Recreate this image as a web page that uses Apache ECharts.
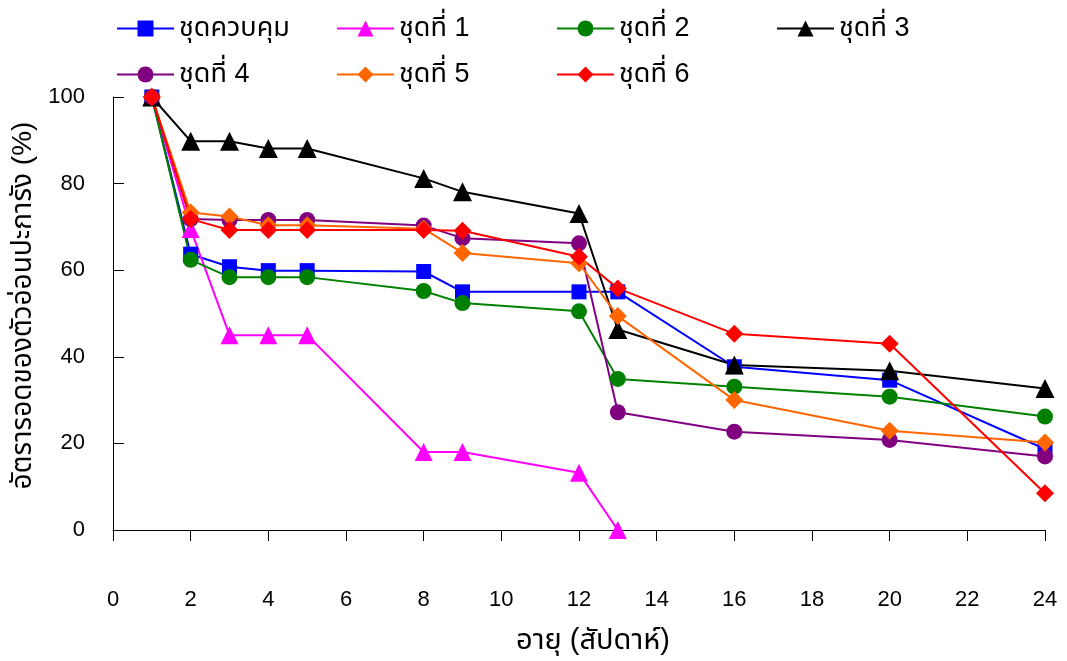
<!DOCTYPE html>
<html>
<head>
<meta charset="utf-8">
<script src="https://cdn.jsdelivr.net/npm/echarts@6/dist/echarts.min.js"></script>
<style>
  html, body { margin: 0; padding: 0; background: #ffffff; }
  #chart { width: 1067px; height: 661px; }
</style>
</head>
<body>
<div id="chart"></div>
<script>
// Age of larvae (weeks) at each census
const weeks = [1, 2, 3, 4, 5, 8, 9, 12, 13, 16, 20, 24];

// Survival (%) per treatment set
const control = [100, 63.7, 60.8, 59.9, 59.9, 59.7, 55.0, 55.0, 55.0, 37.7, 34.6, 18.7];
const set1 = [100, 69.5, 45.0, 45.0, 45.0, 18.0, 18.0, 13.2, 0];
const set2 = [100, 62.4, 58.4, 58.4, 58.4, 55.2, 52.4, 50.5, 34.9, 33.1, 30.8, 26.2];
const set3 = [100, 89.8, 89.8, 88.1, 88.1, 81.2, 78.1, 73.1, 46.3, 38.1, 36.8, 32.7];
const set4 = [100, 71.8, 71.6, 71.6, 71.6, 70.3, 67.4, 66.2, 27.2, 22.7, 20.8, 17.0];
const set5 = [100, 73.3, 72.4, 70.4, 70.4, 69.6, 64.0, 61.6, 49.4, 30.0, 22.9, 20.2];
const set6 = [100, 71.8, 69.3, 69.3, 69.3, 69.3, 69.1, 63.1, 55.8, 45.3, 43.0, 8.5];

const seriesNames = ['ชุดควบคุม', 'ชุดที่ 1', 'ชุดที่ 2', 'ชุดที่ 3', 'ชุดที่ 4', 'ชุดที่ 5', 'ชุดที่ 6'];
const seriesValues = [control, set1, set2, set3, set4, set5, set6];

// x-axis ticks 0..24 step 2, y-axis ticks 0..100 step 20
const xTicks = { min: 0, max: 24, step: 2 };
const yTicks = { min: 0, max: 100, step: 20 };

const colors = ['#0000ff', '#ff00ff', '#008000', '#000000', '#800080', '#ff6600', '#ff0000'];
const symbols = ['rect', 'triangle', 'circle', 'triangle', 'circle', 'diamond', 'diamond'];
const symbolSizes = [15, 18, 16, 19, 16, 18, 18];

const FONT = '"Liberation Sans", Arial, "Noto Sans Thai", "Noto Sans", sans-serif';

const series = seriesValues.map((vals, i) => ({
  name: seriesNames[i],
  type: 'line',
  data: vals.map((v, j) => [weeks[j], v]),
  symbol: symbols[i],
  symbolSize: symbolSizes[i],
  lineStyle: { color: colors[i], width: 2 },
  itemStyle: { color: colors[i] },
  emphasis: { disabled: true },
  animation: false
}));

// one legend block per series so the columns sit on a fixed grid
const legendPos = [
  [116, 15], [336, 15], [556, 15], [776, 15],
  [116, 61], [336, 61], [556, 61]
];
const legends = seriesNames.map((n, i) => ({
  data: [n],
  left: legendPos[i][0],
  top: legendPos[i][1],
  itemWidth: 57,
  itemHeight: 20,
  padding: 0,
  selectedMode: false,
  textStyle: { fontFamily: FONT, fontSize: 27, color: '#000' }
}));

const chart = echarts.init(document.getElementById('chart'), null, { renderer: 'canvas' });
chart.setOption({
  backgroundColor: '#ffffff',
  animation: false,
  color: colors,
  legend: legends,
  grid: { left: 113, right: 22, top: 97, bottom: 131, containLabel: false },
  xAxis: {
    type: 'value',
    min: xTicks.min,
    max: xTicks.max,
    interval: xTicks.step,
    name: 'อายุ (สัปดาห์)',
    nameLocation: 'middle',
    nameGap: 96,
    nameTextStyle: { fontFamily: FONT, fontSize: 29, color: '#000', padding: [0, 0, 0, 28] },
    axisLine: { lineStyle: { color: '#000', width: 1 } },
    axisTick: { show: true, inside: false, length: 11, lineStyle: { color: '#000' } },
    axisLabel: { fontFamily: FONT, fontSize: 22, color: '#000', margin: 59 },
    splitLine: { show: false }
  },
  yAxis: {
    type: 'value',
    min: yTicks.min,
    max: yTicks.max,
    interval: yTicks.step,
    name: 'อัตรารอดของตัวอ่อนปะการัง (%)',
    nameLocation: 'middle',
    nameGap: 65,
    nameRotate: 90,
    nameTextStyle: { fontFamily: FONT, fontSize: 28, color: '#000', padding: [0, 0, 0, 16] },
    axisLine: { show: true, lineStyle: { color: '#000', width: 1 } },
    axisTick: { show: true, inside: true, length: 11, lineStyle: { color: '#000' } },
    axisLabel: { fontFamily: FONT, fontSize: 22, color: '#000', margin: 28 },
    splitLine: { show: false }
  },
  series: series
});
</script>
</body>
</html>
